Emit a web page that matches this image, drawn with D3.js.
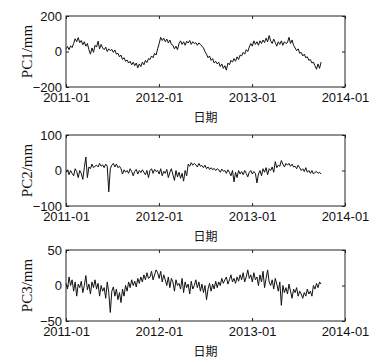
<!DOCTYPE html>
<html>
<head>
<meta charset="utf-8">
<script src="https://cdn.jsdelivr.net/npm/d3@7"></script>
<style>
    body { margin: 0; background: #fff; }
    svg { display: block; font-family: "Liberation Serif", "Noto Sans CJK SC", serif; }
    .axis text { font-size: 13px; fill: #111; }
    .axis line { stroke: #222; }
    .axis .domain { display: none; }
</style>
</head>
<body>
<div id="chart"></div>
<script>
// sample dates, one every 6 days from 2011-01-01
const dates = d3.timeDay.range(new Date(2011, 0, 1), new Date(2013, 9, 1), 6);

const pc1 = [
    15, 28, 10, 32, 22,   45, 72, 55, 78, 50,   62, 38, 55, 30, 45,
    10, -15, 20, -5, 35,  25, 58, 15, 40, 20,   10, 25, 0, 15, 5,
    12, -5, 8, -15, -10,  -30, -20, -45, -35, -55,  -48, -65, -55, -75, -60,
    -80, -65, -92, -70, -85,  -60, -75, -50, -62, -40,  -45, -25, -35, -10, -20,
    15, 45, 80, 62, 75,   55, 70, 48, 65, 40,   35, 15, 30, 10, 45,
    60, 40, 55, 35, 58,   48, 62, 40, 55, 45,   50, 35, 48, 40, 30,
    20, 0, -15, -35, -25,  -50, -40, -65, -55, -70,  -60, -85, -70, -95, -80,
    -105, -65, -75, -50, -60,  -40, -55, -30, -45, -20,  -25, -5, -15, 10, 0,
    25, 45, 30, 60, 40,   55, 35, 60, 45, 65,   50, 75, 55, 90, 60,
    45, 70, 50, 30, 55,   40, 60, 35, 55, 45,   50, 80, 45, 65, 35,
    20, 5, 15, -10, -5,   -25, -15, -35, -30, -50,  -45, -65, -60, -80, -100,
    -70, -95, -60
];

const pc2 = [
    -5, 2, -12, 0, -8,    -15, 5, -3, -20, 0,   -8, -25, 8, 38, -20,
    10, 5, 18, 8, 12,     15, 10, 20, 12, 16,   8, 18, 12, -60, 5,
    15, 20, 10, 18, 8,    12, 5, -10, 2, -5,    0, -8, 5, -3, -15,
    -2, 3, -10, 0, -6,    2, -5, -12, 0, -20,   0, 5, -8, 3, -3,
    0, -10, 5, -15, -2,   -8, 3, -20, -5, 5,    -12, -28, 0, -18, -5,
    -22, -8, -30, 0, -15, 18, 12, 22, 15, 20,   16, 10, 20, 12, 14,
    8, 15, 5, 10, 3,      8, 2, 6, 0, 5,        2, -5, 4, -2, 0,
    -8, 2, -5, -15, 0,    -32, -5, -20, 0, -10, -3, -12, 0, -8, -18,
    -5, 0, -10, -3, -8,   -35, -10, 0, -15, 5,  -5, 8, -12, 5, 0,
    10, -5, 25, 8, 15,    12, 28, 18, 10, 20,   15, 20, 12, 18, 10,
    12, 5, 15, 8, 0,      5, -3, 8, -5, 0,      -8, 0, -10, -5, -3,
    -8, -5, -10
];

const pc3 = [
    3, -5, 12, 0, 8,      -8, 5, -15, 2, -3,    6, -10, 0, 14, -6,
    2, -12, 5, -3, 8,     -5, 3, -15, 0, -8,    -3, -18, 5, -10, -38,
    -8, -2, -15, -5, -20, -10, -24, -5, -15, 0, -8, 5, -3, 8, 0,
    6, -2, 10, 3, 12,     5, 15, 8, 18, 10,     12, 20, 8, 15, 22,
    18, 10, 20, 5, 15,    8, 0, 12, -3, 10,     5, -8, 8, 0, 3,
    -5, 10, -10, 5, -3,   2, -12, 6, -5, 0,     8, -3, 5, -8, 2,
    -10, 0, -20, -5, 3,   -8, 2, -5, 6, -3,     5, 0, 10, 3, 8,
    12, 2, 8, 15, 5,      10, 3, 12, 6, 15,     8, 18, 5, 12, 22,
    10, 15, 5, 18, 8,     12, 0, 15, 5, 20,     -3, 10, 22, 5, 0,
    8, -5, 10, 2, -8,     5, -28, 0, -10, -3,   -12, 2, -8, -18, -5,
    -10, -3, -15, -8, -12, -18, -10, -15, -5, -12, -8, -15, 0, -5, 3,
    -3, 5, 2
];

const xTicks = [new Date(2011, 0, 1), new Date(2012, 0, 1), new Date(2013, 0, 1), new Date(2014, 0, 1)];
const panels = [
    { label: 'PC1/mm', values: pc1, ticks: [-200, 0, 200] },
    { label: 'PC2/mm', values: pc2, ticks: [-100, 0, 100] },
    { label: 'PC3/mm', values: pc3, ticks: [-50, 0, 50] }
];
const panelTops = [16, 135, 250];

const width = 391, height = 363;
const left = 66, right = 345, plotH = 71;

const svg = d3.select('#chart').append('svg')
    .attr('width', width)
    .attr('height', height);

const x = d3.scaleTime()
    .domain([xTicks[0], xTicks[3]])
    .range([left, right]);

panels.forEach((p, i) => {
    const top = panelTops[i];
    const bottom = top + plotH;
    const y = d3.scaleLinear()
        .domain([p.ticks[0], p.ticks[2]])
        .range([bottom, top]);

    const g = svg.append('g');

    // ticks pointing inward on all four sides
    g.append('g').attr('class', 'axis')
        .attr('transform', `translate(0,${bottom})`)
        .call(d3.axisBottom(x).tickValues(xTicks).tickFormat(d3.timeFormat('%Y-%m'))
            .tickSize(-3).tickPadding(6));
    g.append('g').attr('class', 'axis')
        .attr('transform', `translate(0,${top})`)
        .call(d3.axisTop(x).tickValues(xTicks).tickFormat('').tickSize(-3));
    g.append('g').attr('class', 'axis')
        .attr('transform', `translate(${left},0)`)
        .call(d3.axisLeft(y).tickValues(p.ticks).tickSize(-3).tickPadding(4));
    g.append('g').attr('class', 'axis')
        .attr('transform', `translate(${right},0)`)
        .call(d3.axisRight(y).tickValues(p.ticks).tickFormat('').tickSize(-3));

    const line = d3.line()
        .x((d, j) => x(dates[j]))
        .y(d => y(d));

    g.append('path')
        .datum(p.values)
        .attr('fill', 'none')
        .attr('stroke', '#111')
        .attr('stroke-width', 1)
        .attr('d', line);

    g.append('rect')
        .attr('x', left).attr('y', top)
        .attr('width', right - left).attr('height', plotH)
        .attr('fill', 'none').attr('stroke', '#222').attr('stroke-width', 1);

    g.append('text')
        .attr('transform', `translate(32,${top + plotH / 2}) rotate(-90)`)
        .attr('text-anchor', 'middle')
        .attr('font-size', 15)
        .attr('fill', '#111')
        .text(p.label);

    g.append('text')
        .attr('x', (left + right) / 2)
        .attr('y', bottom + 35)
        .attr('text-anchor', 'middle')
        .attr('font-size', 12)
        .attr('fill', '#111')
        .text('日期');
});
</script>
</body>
</html>
